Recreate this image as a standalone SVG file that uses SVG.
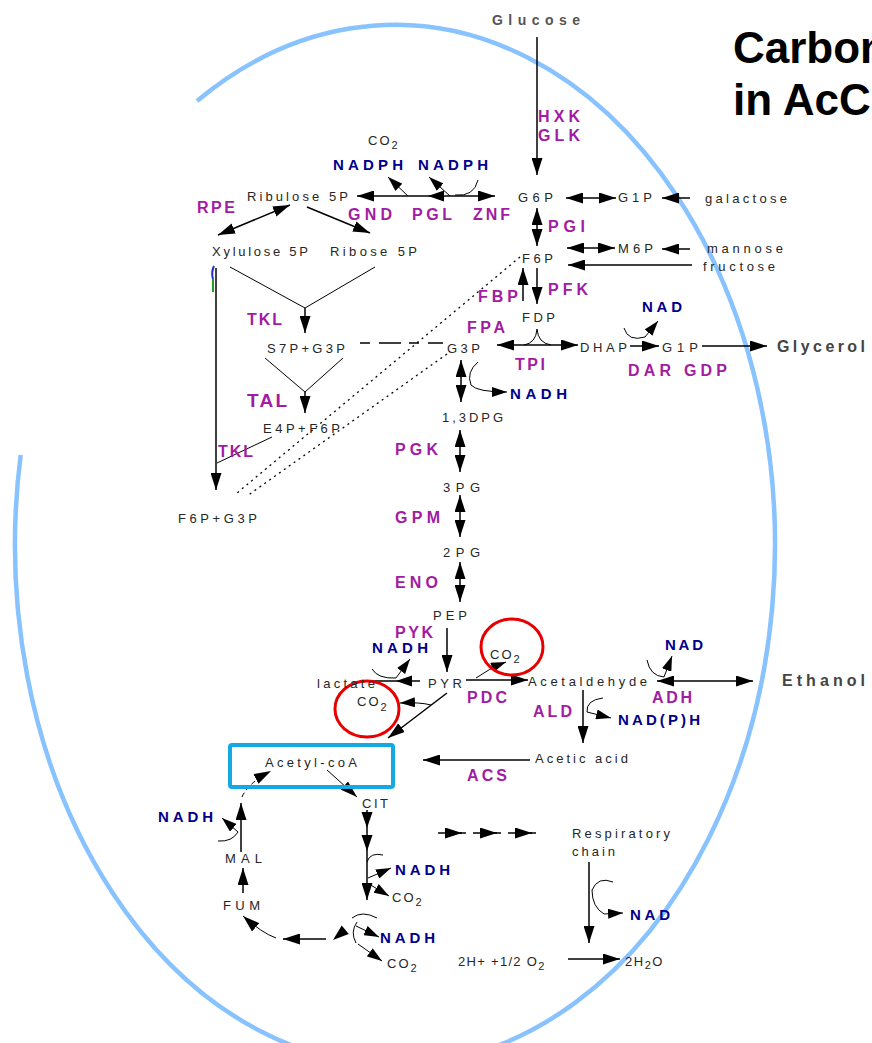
<svg xmlns="http://www.w3.org/2000/svg" xmlns:xlink="http://www.w3.org/1999/xlink" width="872" height="1043" viewBox="0 0 872 1043">
<style>
text{font-family:"Liberation Sans",Arial,sans-serif}
.m{font-size:13px;fill:#262626}
.e{font-size:16px;font-weight:bold;fill:#a21ca2}
.c{font-size:15px;font-weight:bold;fill:#00008b}
.big{font-size:16px;font-weight:bold;fill:#444}
.ttl{font-size:44px;font-weight:bold;fill:#000}
.sub{font-size:11px}
.ln{stroke:#000;stroke-width:1.5;fill:none}
.a{marker-end:url(#ah)}
.b{marker-start:url(#ah);marker-end:url(#ah)}
.s{marker-end:url(#as)}
.thin{stroke:#000;stroke-width:1;fill:none}
.dot{stroke:#000;stroke-width:1.3;fill:none;stroke-dasharray:2 4}
.dash{stroke:#000;stroke-width:1.5;fill:none;stroke-dasharray:10 9 22 8}
</style>
<defs>
<marker id="ah" markerUnits="userSpaceOnUse" markerWidth="17" markerHeight="11" refX="17" refY="5.5" orient="auto-start-reverse"><path d="M0,0 L17,5.5 L0,11 z" fill="#000"/></marker>
<marker id="as" markerUnits="userSpaceOnUse" markerWidth="15" markerHeight="10" refX="15" refY="5" orient="auto"><path d="M0,0 L15,5 L0,10 z" fill="#000"/></marker>
<path id="tri" d="M0,0 L-16,-5.5 L-16,5.5 z" fill="#000"/>
</defs>

<path id="cell" d="M197,101 A380,520 0 1 1 20.7,455" fill="none" stroke="#88c2ff" stroke-width="4.5"/>

<g id="title">
<text class="ttl" x="733" y="63">Carbon</text>
<text class="ttl" x="733" y="115">in AcCo</text>
</g>

<g id="connectors">
<line class="ln a" x1="537" y1="37" x2="537" y2="175"/>
<line class="ln b" x1="357" y1="196" x2="495" y2="196"/>
<use xlink:href="#tri" transform="translate(428,196) rotate(180)"/>
<path class="thin s" d="M408,196 L388,177"/>
<path class="thin s" d="M450,196 L429,177"/>
<path class="thin" d="M455,195 Q474,197 478,180"/>
<line class="ln b" x1="566" y1="198" x2="616" y2="198"/>
<line class="ln a" x1="690" y1="198" x2="662" y2="198"/>
<line class="ln b" x1="537" y1="208" x2="537" y2="246"/>
<line class="ln b" x1="567" y1="248" x2="615" y2="248"/>
<line class="ln a" x1="690" y1="249" x2="662" y2="249"/>
<line class="ln a" x1="692" y1="265" x2="568" y2="265"/>
<line class="ln a" x1="523" y1="301" x2="523" y2="268"/>
<line class="ln a" x1="537" y1="268" x2="537" y2="304"/>
<path class="thin" d="M524,345 Q536,343 537,329 Q538,343 551,345"/>
<line class="ln b" x1="497" y1="345" x2="578" y2="345"/>
<line class="ln a" x1="630" y1="346" x2="659" y2="346"/>
<path class="thin s" d="M624,328 Q628,342 645,337 L658,321"/>
<line class="ln a" x1="702" y1="346" x2="767" y2="346"/>
<line class="ln b" x1="461" y1="360" x2="461" y2="402"/>
<path class="thin s" d="M478,362 Q466,372 471,385 Q477,392 507,392"/>
<line class="ln b" x1="460" y1="430" x2="460" y2="472"/>
<line class="ln b" x1="460" y1="495" x2="460" y2="537"/>
<line class="ln b" x1="460" y1="562" x2="460" y2="602"/>
<line class="ln a" x1="447" y1="628" x2="447" y2="672"/>
<line class="ln" x1="420" y1="681" x2="373" y2="681"/>
<use xlink:href="#tri" transform="translate(396,681) rotate(180)"/>
<path class="thin s" d="M372,669 Q378,679 396,678 L410,659"/>
<line class="ln a" x1="466" y1="680" x2="528" y2="680"/>
<path class="thin s" d="M476,678 Q488,669 506,662"/>
<line class="ln a" x1="447" y1="693" x2="388" y2="738"/>
<path class="thin s" d="M431,705 Q420,702 400,703"/>
<line class="ln a" x1="530" y1="760" x2="423" y2="760"/>
<line class="ln a" x1="583" y1="690" x2="583" y2="743"/>
<path class="thin s" d="M603,698 Q586,700 587,712 L611,718"/>
<line class="ln b" x1="657" y1="681" x2="753" y2="681"/>
<path class="thin s" d="M647,660 Q650,676 664,677 L672,656"/>
<path class="thin a" d="M327,770 L357,797"/>
<line class="ln a" x1="367" y1="810" x2="367" y2="900"/>
<use xlink:href="#tri" transform="translate(367,828) rotate(90)"/>
<use xlink:href="#tri" transform="translate(367,851) rotate(90)"/>
<path class="thin" d="M367,862 Q370,852 383,855"/>
<path class="thin s" d="M368,878 L391,868"/>
<path class="thin s" d="M369,884 L389,896"/>
<path class="thin" d="M352,918 Q362,910 377,918"/>
<path class="thin" d="M357,922 Q350,932 356,943"/>
<path class="thin s" d="M356,926 L379,937"/>
<path class="thin s" d="M358,944 L382,961"/>
<use xlink:href="#tri" transform="translate(333,940) rotate(140)"/>
<line class="ln a" x1="326" y1="939" x2="283" y2="939"/>
<path class="thin a" d="M276,938 Q262,933 243,916"/>
<line class="ln a" x1="243" y1="893" x2="243" y2="868"/>
<line class="ln a" x1="241" y1="852" x2="241" y2="803"/>
<path class="thin a" d="M242,797 Q248,783 271,771" stroke-dasharray="5 3"/>
<path class="thin s" d="M218,841 Q232,842 238,832 L222,818"/>
<line class="ln a" x1="438" y1="833" x2="462" y2="833"/><line class="ln" x1="460" y1="833" x2="466" y2="833"/>
<line class="ln a" x1="473" y1="833" x2="497" y2="833"/><line class="ln" x1="495" y1="833" x2="501" y2="833"/>
<line class="ln a" x1="508" y1="833" x2="532" y2="833"/><line class="ln" x1="530" y1="833" x2="536" y2="833"/>
<line class="ln a" x1="589" y1="862" x2="589" y2="943"/>
<path class="thin s" d="M613,882 Q598,876 592,890 Q592,907 604,914 L623,913"/>
<line class="ln a" x1="568" y1="959" x2="620" y2="959"/>
<line class="ln b" x1="290" y1="205" x2="218" y2="235"/>
<line class="ln a" x1="307" y1="207" x2="370" y2="233"/>
<path class="thin" d="M230,267 L305,308 L375,267"/>
<line class="ln a" x1="305" y1="308" x2="305" y2="333"/>
<line class="dash" x1="360" y1="343" x2="443" y2="343"/>
<path class="thin" d="M265,358 L305,392 L343,358"/>
<line class="ln a" x1="305" y1="392" x2="305" y2="413"/>
<line class="ln a" x1="216" y1="268" x2="216" y2="490"/>
<path d="M214,266 Q211,272 213,279" stroke="#2030c0" stroke-width="2" fill="none"/>
<path d="M213,279 L213,292" stroke="#20a020" stroke-width="2" fill="none"/>
<line class="thin" x1="272" y1="437" x2="217" y2="463"/>
<line class="dot" x1="520" y1="257" x2="237" y2="493"/>
<line class="dot" x1="447" y1="354" x2="247" y2="496"/>
</g>

<ellipse cx="512" cy="647" rx="31" ry="28" fill="none" stroke="#e80000" stroke-width="3"/>
<ellipse cx="367" cy="709" rx="32" ry="28" fill="none" stroke="#e80000" stroke-width="3"/>
<rect x="230" y="745" width="163" height="42" rx="2" fill="none" stroke="#14a9e4" stroke-width="4"/>

<g id="n-glucose"><text x="492" y="25" style="font-size:14px;font-weight:bold;fill:#555" textLength="88">Glucose</text></g>
<g id="n-ribulose"><text class="m" x="247" y="201" textLength="101">Ribulose 5P</text></g>
<g id="n-xylulose"><text class="m" x="212" y="256" textLength="96">Xylulose 5P</text></g>
<g id="n-ribose"><text class="m" x="330" y="256" textLength="87">Ribose 5P</text></g>
<g id="n-g6p"><text class="m" x="518" y="202" textLength="35">G6P</text></g>
<g id="n-g1p"><text class="m" x="618" y="202" textLength="34">G1P</text></g>
<g id="n-galactose"><text class="m" x="705" y="203" textLength="82">galactose</text></g>
<g id="n-f6p"><text class="m" x="522" y="263" textLength="31">F6P</text></g>
<g id="n-m6p"><text class="m" x="618" y="253" textLength="35">M6P</text></g>
<g id="n-mannose"><text class="m" x="707" y="253" textLength="76">mannose</text></g>
<g id="n-fructose"><text class="m" x="703" y="271" textLength="72">fructose</text></g>
<g id="n-fdp"><text class="m" x="522" y="322" textLength="33">FDP</text></g>
<g id="n-g3p"><text class="m" x="447" y="353" textLength="33">G3P</text></g>
<g id="n-s7p"><text class="m" x="267" y="353" textLength="78">S7P+G3P</text></g>
<g id="n-dhap"><text class="m" x="580" y="352" textLength="47">DHAP</text></g>
<g id="n-g1p2"><text class="m" x="662" y="352" textLength="36">G1P</text></g>
<g id="n-glycerol"><text class="big" x="777" y="352" textLength="88">Glycerol</text></g>
<g id="n-13dpg"><text class="m" x="442" y="422" textLength="61">1,3DPG</text></g>
<g id="n-e4p"><text class="m" x="263" y="433" textLength="77">E4P+F6P</text></g>
<g id="n-3pg"><text class="m" x="443" y="492" textLength="37">3PG</text></g>
<g id="n-f6pg3p"><text class="m" x="178" y="523" textLength="79">F6P+G3P</text></g>
<g id="n-2pg"><text class="m" x="443" y="557" textLength="37">2PG</text></g>
<g id="n-pep"><text class="m" x="433" y="620" textLength="34">PEP</text></g>
<g id="n-lactate"><text class="m" x="317" y="688" textLength="58">lactate</text></g>
<g id="n-pyr"><text class="m" x="428" y="688" textLength="34">PYR</text></g>
<g id="n-co2a"><text class="m" x="490" y="659" letter-spacing="2">CO<tspan class="sub" dy="4">2</tspan></text></g>
<g id="n-acetaldehyde"><text class="m" x="528" y="686" textLength="119">Acetaldehyde</text></g>
<g id="n-ethanol"><text class="big" x="782" y="686" textLength="83">Ethanol</text></g>
<g id="n-co2b"><text class="m" x="357" y="706" letter-spacing="2">CO<tspan class="sub" dy="5">2</tspan></text></g>
<g id="n-acetylcoa"><text class="m" x="265" y="767" textLength="92">Acetyl-coA</text></g>
<g id="n-aceticacid"><text class="m" x="535" y="763" textLength="93">Acetic acid</text></g>
<g id="n-cit"><text class="m" x="362" y="808" textLength="26">CIT</text></g>
<g id="n-mal"><text class="m" x="225" y="863" textLength="37">MAL</text></g>
<g id="n-fum"><text class="m" x="223" y="910" textLength="37">FUM</text></g>
<g id="n-co2c"><text class="m" x="392" y="902" letter-spacing="2">CO<tspan class="sub" dy="4">2</tspan></text></g>
<g id="n-co2d"><text class="m" x="387" y="968" letter-spacing="2">CO<tspan class="sub" dy="4">2</tspan></text></g>
<g id="n-co2top"><text class="m" x="368" y="145" letter-spacing="2">CO<tspan class="sub" dy="4">2</tspan></text></g>
<g id="n-resp"><text class="m" x="572" y="838" textLength="98">Respiratory</text><text class="m" x="572" y="856" textLength="43">chain</text></g>
<g id="n-o2"><text class="m" x="458" y="966" letter-spacing="1.3">2H+ +1/2 O<tspan class="sub" dy="4">2</tspan></text></g>
<g id="n-h2o"><text class="m" x="625" y="966" letter-spacing="1.5">2H<tspan class="sub" dy="3">2</tspan><tspan dy="-3">O</tspan></text></g>

<g id="enzymes">
<text class="e" x="538" y="122" textLength="42">HXK</text>
<text class="e" x="538" y="141" textLength="42">GLK</text>
<text class="e" x="197" y="213" textLength="38">RPE</text>
<text class="e" x="348" y="220" textLength="44">GND</text>
<text class="e" x="412" y="220" textLength="40">PGL</text>
<text class="e" x="473" y="220" textLength="37">ZNF</text>
<text class="e" x="548" y="232" textLength="37">PGI</text>
<text class="e" x="478" y="302" textLength="40">FBP</text>
<text class="e" x="548" y="295" textLength="40">PFK</text>
<text class="e" x="467" y="333" textLength="38">FPA</text>
<text class="e" x="515" y="370" textLength="30">TPI</text>
<text class="e" x="628" y="376" textLength="99">DAR GDP</text>
<text class="e" x="247" y="325" textLength="35">TKL</text>
<text class="e" x="247" y="407" style="font-size:19px" textLength="40">TAL</text>
<text class="e" x="218" y="457" textLength="35">TKL</text>
<text class="e" x="395" y="455" textLength="43">PGK</text>
<text class="e" x="395" y="523" textLength="45">GPM</text>
<text class="e" x="395" y="588" textLength="43">ENO</text>
<text class="e" x="395" y="638" textLength="38">PYK</text>
<text class="e" x="467" y="703" textLength="40">PDC</text>
<text class="e" x="533" y="717" textLength="39">ALD</text>
<text class="e" x="652" y="703" textLength="40">ADH</text>
<text class="e" x="467" y="781" textLength="40">ACS</text>
</g>

<g id="cofactors">
<text class="c" x="333" y="170" textLength="70">NADPH</text>
<text class="c" x="418" y="170" textLength="70">NADPH</text>
<text class="c" x="642" y="312" textLength="40">NAD</text>
<text class="c" x="510" y="399" textLength="57">NADH</text>
<text class="c" x="372" y="653" textLength="56">NADH</text>
<text class="c" x="665" y="650" textLength="38">NAD</text>
<text class="c" x="618" y="725" textLength="82">NAD(P)H</text>
<text class="c" x="158" y="822" textLength="55">NADH</text>
<text class="c" x="395" y="875" textLength="55">NADH</text>
<text class="c" x="380" y="943" textLength="55">NADH</text>
<text class="c" x="630" y="920" textLength="40">NAD</text>
</g>
</svg>
